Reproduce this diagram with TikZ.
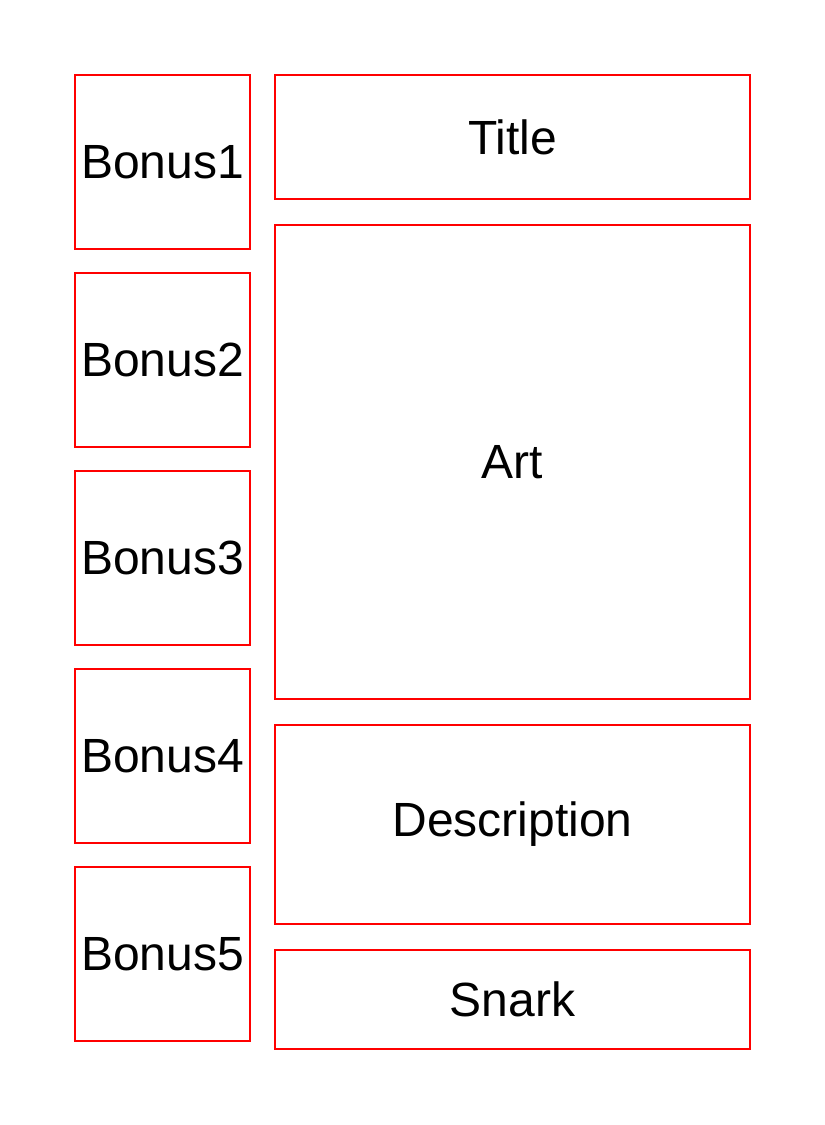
\documentclass[tikz,border=0pt]{standalone}
\usepackage{fontspec}
\setmainfont{Liberation Sans}
\usetikzlibrary{positioning}

\begin{document}
\begin{tikzpicture}[x=1pt,y=-1pt,
  slot/.style={draw=red,line width=1.4pt,outer sep=0pt,inner sep=0pt,
    font=\fontsize{48}{56}\selectfont},
  bonus/.style={slot,minimum width=175pt,minimum height=174pt},
  wide/.style={slot,minimum width=475pt}]
  \useasboundingbox (0,0) rectangle (825,1125);
  % left column
  \node [bonus] (b1) at (162.5,162) {Bonus1};
  \node [bonus,below=24pt of b1] (b2) {Bonus2};
  \node [bonus,below=24pt of b2] (b3) {Bonus3};
  \node [bonus,below=24pt of b3] (b4) {Bonus4};
  \node [bonus,below=24pt of b4] (b5) {Bonus5};
  % right column
  \node [wide,minimum height=124pt] (title) at (512.5,137) {Title};
  \node [wide,minimum height=474pt,below=26pt of title] (art) {Art};
  \node [wide,minimum height=199pt,below=26pt of art] (desc) {Description};
  \node [wide,minimum height=99pt,below=26pt of desc] (snark) {Snark};
\end{tikzpicture}
\end{document}
